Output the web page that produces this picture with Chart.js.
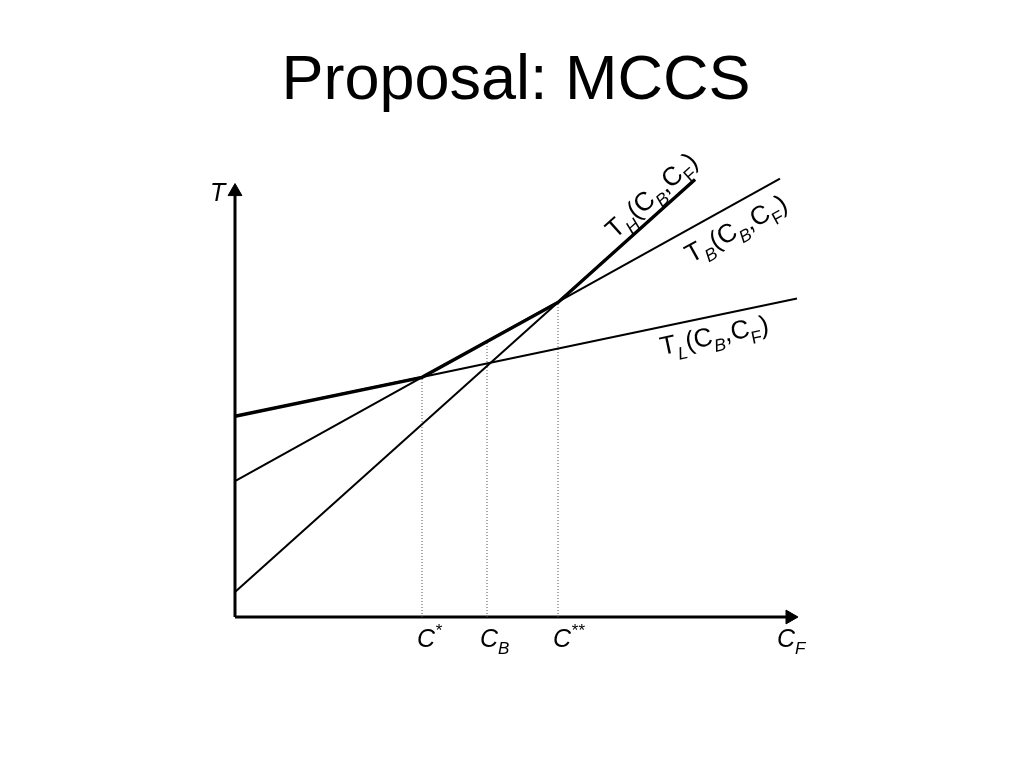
<!DOCTYPE html>
<html>
<head>
<meta charset="utf-8">
<title>Proposal: MCCS</title>
<script src="https://cdn.jsdelivr.net/npm/chart.js@4"></script>
<style>
  html, body { margin: 0; padding: 0; background: #fff; }
</style>
</head>
<body>
<canvas id="chart" width="1024" height="768"></canvas>
<script>
// plot units, origin at the axis corner
const lowX = [0, 562];
const lowY = [201, 319];
const baseX = [0, 545];
const baseY = [136, 439];
const highX = [0, 460];
const highY = [25, 438];

// upper envelope: T_L up to C*, T_B up to C**, then T_H
const envX = [0, 187, 323, 460];
const envY = [201, 240, 315, 438];

// marks on the C_F axis
const markNames = ["C*", "C_B", "C**"];
const markX = [187, 252, 323];
const markTop = [240, 276, 315];

const axisEndX = 555;
const axisEndY = 426;

const pts = (xs, ys) => xs.map((x, i) => ({ x: x, y: ys[i] }));

function line(data, width, extra) {
  return Object.assign({
    data: data,
    borderColor: "#000",
    borderWidth: width,
    pointRadius: 0,
    showLine: true,
    fill: false,
    clip: false,
  }, extra || {});
}

const datasets = [
  line(pts(lowX, lowY), 2),
  line(pts(baseX, baseY), 2),
  line(pts(highX, highY), 2),
  line(pts(envX, envY), 3.4),
];

markX.forEach((x, i) => {
  datasets.push(line(pts([x, x], [0, markTop[i]]), 1, {
    borderColor: "#555",
    borderDash: [1, 2],
  }));
});

// axes with arrow heads
const arrow = {
  pointRadius: [0, 8],
  pointStyle: "triangle",
  pointBackgroundColor: "#000",
  pointBorderColor: "#000",
  pointBorderWidth: 1,
};
datasets.push(line(pts([0, axisEndX], [0, 0]), 3, Object.assign({ pointRotation: 90 }, arrow)));
datasets.push(line(pts([0, 0], [0, axisEndY]), 3, Object.assign({ pointRotation: 0 }, arrow)));

const FONT = '"Liberation Sans", Arial, sans-serif';

// parts: [text, "sub" | "sup" | "", italic]
function drawRich(ctx, x, y, angle, parts, size) {
  ctx.save();
  ctx.translate(x, y);
  ctx.rotate(angle * Math.PI / 180);
  ctx.fillStyle = "#000";
  ctx.textBaseline = "alphabetic";
  let cx = 0;
  parts.forEach(([t, kind, italic]) => {
    const s = kind ? size * 0.68 : size;
    ctx.font = (italic ? "italic " : "") + s + "px " + FONT;
    const dy = kind === "sub" ? size * 0.3 : kind === "sup" ? -size * 0.42 : 0;
    ctx.fillText(t, cx, dy);
    cx += ctx.measureText(t).width;
  });
  ctx.restore();
}

function funcLabel(letter) {
  return [["T"], [letter, "sub", true], ["(C"], ["B", "sub", true], [",C"], ["F", "sub"], [")"]];
}

const markParts = {
  "C*": [["C", "", true], ["*", "sup", true]],
  "C_B": [["C", "", true], ["B", "sub", true]],
  "C**": [["C", "", true], ["**", "sup", true]],
};

const labelPlugin = {
  id: "labels",
  afterDatasetsDraw(chart) {
    const ctx = chart.ctx;
    const xs = chart.scales.x;
    const ys = chart.scales.y;
    const px = (v) => xs.getPixelForValue(v);
    const py = (v) => ys.getPixelForValue(v);

    drawRich(ctx, px(-25), py(417), 0, [["T", "", true]], 25);
    drawRich(ctx, px(542), py(-30), 0, [["C", "", true], ["F", "sub", true]], 25);

    markNames.forEach((name, i) => {
      drawRich(ctx, px(markX[i]) - 5 - (i === 1 ? 2 : 0), py(-30), 0, markParts[name], 25);
    });

    drawRich(ctx, px(380), py(378), -42, funcLabel("H"), 26);
    drawRich(ctx, px(456), py(354), -29, funcLabel("B"), 26);
    drawRich(ctx, px(427), py(262), -12, funcLabel("L"), 26);
  },
};

new Chart(document.getElementById("chart"), {
  type: "scatter",
  data: { datasets: datasets },
  options: {
    responsive: false,
    animation: false,
    layout: { padding: { left: 235, right: 227, top: 0, bottom: 151 } },
    scales: {
      x: { type: "linear", min: 0, max: 562, display: false },
      y: { type: "linear", min: 0, max: 450, display: false },
    },
    plugins: {
      legend: { display: false },
      tooltip: { enabled: false },
      title: {
        display: true,
        text: "Proposal: MCCS",
        color: "#000",
        font: { family: FONT, size: 63, weight: "normal" },
        padding: { top: 44, bottom: 48 },
      },
    },
  },
  plugins: [labelPlugin],
});
</script>
</body>
</html>
